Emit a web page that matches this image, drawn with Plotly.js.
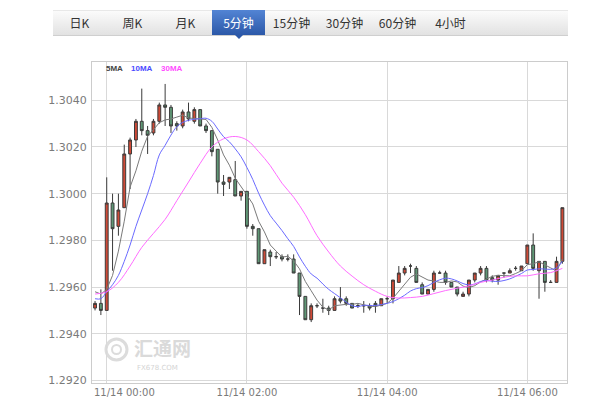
<!DOCTYPE html>
<html><head><meta charset="utf-8">
<script src="https://cdn.plot.ly/plotly-3.0.1.min.js"></script>
<style>
html,body{margin:0;padding:0;background:#fff;width:612px;height:400px;overflow:hidden;}
#wrap{position:relative;width:612px;height:400px;}
#chart{position:absolute;left:0;top:0;width:612px;height:400px;}
#tabs{position:absolute;left:53px;top:10px;width:515px;height:26px;background:linear-gradient(#fbfbfb,#e2e2e2);border-top:1px solid #e8e8e8;border-bottom:1px solid #cfcfcf;box-sizing:border-box;font-family:"Noto Sans CJK SC",sans-serif;font-size:12px;color:#333;z-index:2;}
.tab{position:absolute;top:-1px;height:25px;line-height:25px;text-align:center;width:53px;}
.tab.active{background:linear-gradient(#5284d4,#2c58a8);color:#fff;}
.tab.active:after{content:"";position:absolute;left:50%;margin-left:-4px;top:25px;border-left:4px solid transparent;border-right:4px solid transparent;border-top:4px solid #2c58a8;}
</style>
</head><body>
<div id="wrap"><div id="chart"></div><div id="tabs"></div></div>
<script>
const tabLabels = ['日K','周K','月K','5分钟','15分钟','30分钟','60分钟','4小时'];
const activeTab = '5分钟';

const times = [
'2019-11-13 23:50','2019-11-13 23:55',
'2019-11-14 00:00','2019-11-14 00:05','2019-11-14 00:10','2019-11-14 00:15','2019-11-14 00:20','2019-11-14 00:25',
'2019-11-14 00:30','2019-11-14 00:35','2019-11-14 00:40','2019-11-14 00:45','2019-11-14 00:50','2019-11-14 00:55',
'2019-11-14 01:00','2019-11-14 01:05','2019-11-14 01:10','2019-11-14 01:15','2019-11-14 01:20','2019-11-14 01:25',
'2019-11-14 01:30','2019-11-14 01:35','2019-11-14 01:40','2019-11-14 01:45','2019-11-14 01:50','2019-11-14 01:55',
'2019-11-14 02:00','2019-11-14 02:05','2019-11-14 02:10','2019-11-14 02:15','2019-11-14 02:20','2019-11-14 02:25',
'2019-11-14 02:30','2019-11-14 02:35','2019-11-14 02:40','2019-11-14 02:45','2019-11-14 02:50','2019-11-14 02:55',
'2019-11-14 03:00','2019-11-14 03:05','2019-11-14 03:10','2019-11-14 03:15','2019-11-14 03:20','2019-11-14 03:25',
'2019-11-14 03:30','2019-11-14 03:35','2019-11-14 03:40','2019-11-14 03:45','2019-11-14 03:50','2019-11-14 03:55',
'2019-11-14 04:00','2019-11-14 04:05','2019-11-14 04:10','2019-11-14 04:15','2019-11-14 04:20','2019-11-14 04:25',
'2019-11-14 04:30','2019-11-14 04:35','2019-11-14 04:40','2019-11-14 04:45','2019-11-14 04:50','2019-11-14 04:55',
'2019-11-14 05:00','2019-11-14 05:05','2019-11-14 05:10','2019-11-14 05:15','2019-11-14 05:20','2019-11-14 05:25',
'2019-11-14 05:30','2019-11-14 05:35','2019-11-14 05:40','2019-11-14 05:45','2019-11-14 05:50','2019-11-14 05:55',
'2019-11-14 06:00','2019-11-14 06:05','2019-11-14 06:10','2019-11-14 06:15','2019-11-14 06:20','2019-11-14 06:25',
'2019-11-14 06:30'
];

const opens = [1.2951,1.2953,
1.2950,1.2996,1.2986,1.2994,1.3017,1.3023,1.3031,1.3027,1.3026,1.3031,1.3038,1.3037,
1.3030,1.3029,1.3035,1.3031,1.3036,1.3029,1.3027,1.3019,1.3005,1.3005,1.3006,1.2999,
1.3001,1.2986,1.2985,1.2970,1.2975,1.2973,1.2973,1.2972,1.2972,1.2966,1.2956,1.2946,
1.2952,1.2951,1.2951,1.2950,1.2955,1.2955,1.2953,1.2952,1.2952,1.2952,1.2953,1.2952,
1.2955,1.2955,1.2962,1.2966,1.2969,1.2968,1.2961,1.2957,1.2959,1.2966,1.2966,1.2962,
1.2960,1.2956,1.2957,1.2963,1.2966,1.2968,1.2964,1.2963,1.2966,1.2966,1.2968,1.2967,
1.2970,1.2978,1.2967,1.2971,1.2962,1.2962,1.2971];
const highs = [1.2954,1.2959,
1.3007,1.3000,1.3000,1.3021,1.3024,1.3032,1.3045,1.3029,1.3032,1.3039,1.3047,1.3038,
1.3031,1.3036,1.3039,1.3037,1.3036,1.3030,1.3027,1.3019,1.3008,1.3007,1.3014,1.3001,
1.3001,1.2987,1.2985,1.2976,1.2976,1.2975,1.2974,1.2974,1.2974,1.2966,1.2956,1.2953,
1.2953,1.2955,1.2952,1.2956,1.2960,1.2956,1.2953,1.2953,1.2954,1.2953,1.2954,1.2955,
1.2956,1.2963,1.2969,1.2969,1.2970,1.2969,1.2962,1.2959,1.2967,1.2967,1.2967,1.2962,
1.2960,1.2958,1.2963,1.2966,1.2969,1.2969,1.2965,1.2965,1.2966,1.2968,1.2969,1.2969,
1.2978,1.2983,1.2971,1.2971,1.2963,1.2973,1.2994];
const lows = [1.2950,1.2948,
1.2950,1.2967,1.2982,1.2994,1.3002,1.3020,1.3025,1.3017,1.3025,1.3030,1.3029,1.3026,
1.3027,1.3028,1.3031,1.3030,1.3029,1.3026,1.3016,1.3000,1.2999,1.3002,1.2999,1.2997,
1.2985,1.2982,1.2970,1.2970,1.2969,1.2972,1.2971,1.2971,1.2966,1.2948,1.2946,1.2945,
1.2951,1.2949,1.2948,1.2950,1.2953,1.2952,1.2951,1.2951,1.2949,1.2950,1.2949,1.2952,
1.2953,1.2953,1.2962,1.2965,1.2966,1.2962,1.2957,1.2957,1.2958,1.2966,1.2961,1.2960,
1.2956,1.2956,1.2956,1.2962,1.2965,1.2962,1.2962,1.2961,1.2964,1.2966,1.2967,1.2967,
1.2970,1.2967,1.2955,1.2958,1.2962,1.2962,1.2970];
const closes = [1.2953,1.2950,
1.2996,1.2985,1.2993,1.3017,1.3023,1.3031,1.3027,1.3025,1.3031,1.3038,1.3037,1.3029,
1.3029,1.3035,1.3032,1.3036,1.3029,1.3027,1.3018,1.3005,1.3004,1.3007,1.2999,1.3001,
1.2986,1.2985,1.2970,1.2976,1.2973,1.2973,1.2972,1.2972,1.2966,1.2956,1.2946,1.2952,
1.2952,1.2951,1.2950,1.2955,1.2954,1.2953,1.2951,1.2952,1.2952,1.2951,1.2952,1.2955,
1.2955,1.2963,1.2966,1.2968,1.2969,1.2962,1.2957,1.2959,1.2966,1.2966,1.2962,1.2960,
1.2957,1.2957,1.2963,1.2966,1.2968,1.2963,1.2963,1.2965,1.2966,1.2967,1.2968,1.2969,
1.2978,1.2968,1.2971,1.2962,1.2962,1.2971,1.2994];

const ma5 = [1.2958,1.2957,
1.2959,1.2965,1.29754,1.29882,1.30028,1.30098,1.30182,1.30246,1.30274,1.30304,1.30316,1.3032,
1.30328,1.30336,1.30324,1.30322,1.30322,1.30318,1.30284,1.3023,1.30166,1.30122,1.30066,1.30032,
1.29994,1.29956,1.29882,1.29836,1.2978,1.29754,1.29728,1.29732,1.29712,1.29678,1.29624,1.29584,
1.29544,1.29514,1.29502,1.2952,1.29524,1.29526,1.29526,1.2953,1.29524,1.29518,1.29516,1.29524,
1.2953,1.29552,1.29582,1.29614,1.29642,1.29656,1.29644,1.2963,1.29626,1.2962,1.2962,1.29626,
1.29622,1.29604,1.29598,1.29606,1.29622,1.29634,1.29646,1.2965,1.2965,1.29648,1.29658,1.2967,
1.29696,1.297,1.29708,1.29696,1.29682,1.29668,1.2972];
const ma10 = [1.2955,1.2955,
1.2958,1.2961,1.2965,1.2971,1.2978,1.2986,1.2993,1.3000,1.30078,1.30166,1.30207,1.30251,
1.30287,1.30305,1.30314,1.30319,1.30321,1.30323,1.3031,1.30277,1.30244,1.30222,1.30192,1.30158,
1.30112,1.30061,1.30002,1.29951,1.29906,1.29874,1.29842,1.29807,1.29774,1.29729,1.29689,1.29656,
1.29638,1.29613,1.2959,1.29572,1.29554,1.29535,1.2952,1.29516,1.29522,1.29521,1.29521,1.29525,
1.2953,1.29538,1.2955,1.29565,1.29583,1.29593,1.29598,1.29606,1.2962,1.29631,1.29638,1.29635,
1.29626,1.29615,1.29609,1.29613,1.29624,1.29628,1.29625,1.29624,1.29628,1.29635,1.29646,1.29658,
1.29673,1.29675,1.29678,1.29677,1.29676,1.29682,1.2971];
// 30MA read at every second bar (23:50, 00:00, 00:10, ...)
const ma30 = [1.2957,1.2958,1.2962,1.2969,1.2977,1.2983,1.2989,1.2997,1.3005,1.3013,
1.3020,1.30235,1.30245,1.3023,1.3018,1.3012,1.30045,1.29985,1.2991,1.2982,
1.2975,1.2969,1.29647,1.2961,1.29582,1.2956,1.29553,1.29555,1.2956,1.29572,
1.29585,1.29595,1.29605,1.2962,1.2963,1.29642,1.29648,1.29648,1.29657,1.29662,1.2968];
const ma30Times = times.filter((t, k) => k % 2 === 0);

const yTicks = [1.2920,1.2940,1.2960,1.2980,1.3000,1.3020,1.3040];
const xTicks = ['2019-11-14 00:00','2019-11-14 02:00','2019-11-14 04:00','2019-11-14 06:00'];
const xTickText = ['', '11/14 02:00', '11/14 04:00', '11/14 06:00'];
const firstXLabel = '11/14 00:00';
const xRange = ['2019-11-13 23:47:24','2019-11-14 06:33:57'];
const yRange = [1.29189, 1.30564];

// tab bar
const tabsEl = document.getElementById('tabs');
tabLabels.forEach((t, k) => {
  const d = document.createElement('div');
  d.className = 'tab' + (t === activeTab ? ' active' : '');
  d.style.left = (k * 53) + 'px';
  d.textContent = t;
  tabsEl.appendChild(d);
});

const traces = [
  {type:'candlestick', x: times, open: opens, high: highs, low: lows, close: closes,
   increasing:{line:{color:'#3b3b3b', width:1}, fillcolor:'#cf4a37'},
   decreasing:{line:{color:'#3b3b3b', width:1}, fillcolor:'#5f9775'},
   whiskerwidth:0, showlegend:false, hoverinfo:'skip'},
  {type:'scatter', mode:'lines', x: times, y: ma5, line:{color:'#7a7a7a', width:1}, showlegend:false, hoverinfo:'skip'},
  {type:'scatter', mode:'lines', x: times, y: ma10, line:{color:'#6a6aff', width:1, shape:'spline'}, showlegend:false, hoverinfo:'skip'},
  {type:'scatter', mode:'lines', x: ma30Times, y: ma30, line:{color:'#ff6cff', width:1, shape:'spline'}, showlegend:false, hoverinfo:'skip'}
];

const tickFont = {family:'DejaVu Sans, sans-serif', size:11, color:'#7a7a7a'};
const layout = {
  width:612, height:400,
  margin:{l:92, r:45, t:62, b:17},
  paper_bgcolor:'rgba(0,0,0,0)', plot_bgcolor:'#fff',
  showlegend:false,
  xaxis:{type:'date', range:xRange, rangeslider:{visible:false},
    tickmode:'array', tickvals:xTicks, ticktext:xTickText,
    showgrid:true, gridcolor:'#d9d9d9', gridwidth:1,
    showline:true, mirror:true, linecolor:'#cccccc', linewidth:1,
    ticks:'', zeroline:false, tickfont:{family:'DejaVu Sans, sans-serif', size:10, color:'#7a7a7a'}},
  yaxis:{range:yRange, tickmode:'array', tickvals:yTicks, ticktext:yTicks.map(v => v.toFixed(4)),
    showgrid:true, gridcolor:'#d9d9d9', gridwidth:1,
    showline:true, mirror:true, linecolor:'#cccccc', linewidth:1,
    ticks:'', zeroline:false, tickfont:tickFont, ticklabelstandoff:2},
  annotations:[
    {xref:'paper', yref:'paper', x:0, y:0, xanchor:'left', yanchor:'top', yshift:-2, showarrow:false,
     text:firstXLabel, font:{family:'DejaVu Sans, sans-serif', size:10, color:'#7a7a7a'}},
    {xref:'paper', yref:'paper', x:(104-92)/475, y:(383-68)/321, xanchor:'left', yanchor:'middle', showarrow:false,
     text:'<b>5MA</b>', font:{family:'Liberation Sans, Arial', size:8, color:'#444'}},
    {xref:'paper', yref:'paper', x:(129-92)/475, y:(383-68)/321, xanchor:'left', yanchor:'middle', showarrow:false,
     text:'<b>10MA</b>', font:{family:'Liberation Sans, Arial', size:8, color:'#4a4aff'}},
    {xref:'paper', yref:'paper', x:(159-92)/475, y:(383-68)/321, xanchor:'left', yanchor:'middle', showarrow:false,
     text:'<b>30MA</b>', font:{family:'Liberation Sans, Arial', size:8, color:'#ff4cff'}},
    {xref:'paper', yref:'paper', x:(133-92)/475, y:(383-347)/321, xanchor:'left', yanchor:'middle', showarrow:false,
     borderpad:0, text:'<b>汇通网</b>', font:{family:'Noto Sans CJK SC', size:19, color:'#dadada'}},
    {xref:'paper', yref:'paper', x:(136-92)/475, y:(383-368)/321, xanchor:'left', yanchor:'middle', showarrow:false,
     borderpad:0, text:'FX678.COM', font:{family:'DejaVu Sans', size:7, color:'#d4d4d4'}}
  ],
  shapes:[
    {type:'circle', xref:'paper', yref:'paper', x0:(106-92)/475, x1:(127-92)/475, y0:(383-360)/321, y1:(383-339)/321,
     line:{color:'#dcdcdc', width:3}, layer:'below'},
    {type:'circle', xref:'paper', yref:'paper', x0:(112-92)/475, x1:(121-92)/475, y0:(383-354)/321, y1:(383-345)/321,
     line:{color:'#dcdcdc', width:2}, layer:'below'}
  ]
};

Plotly.newPlot('chart', traces, layout, {staticPlot:true, displayModeBar:false});
</script>
</body></html>
